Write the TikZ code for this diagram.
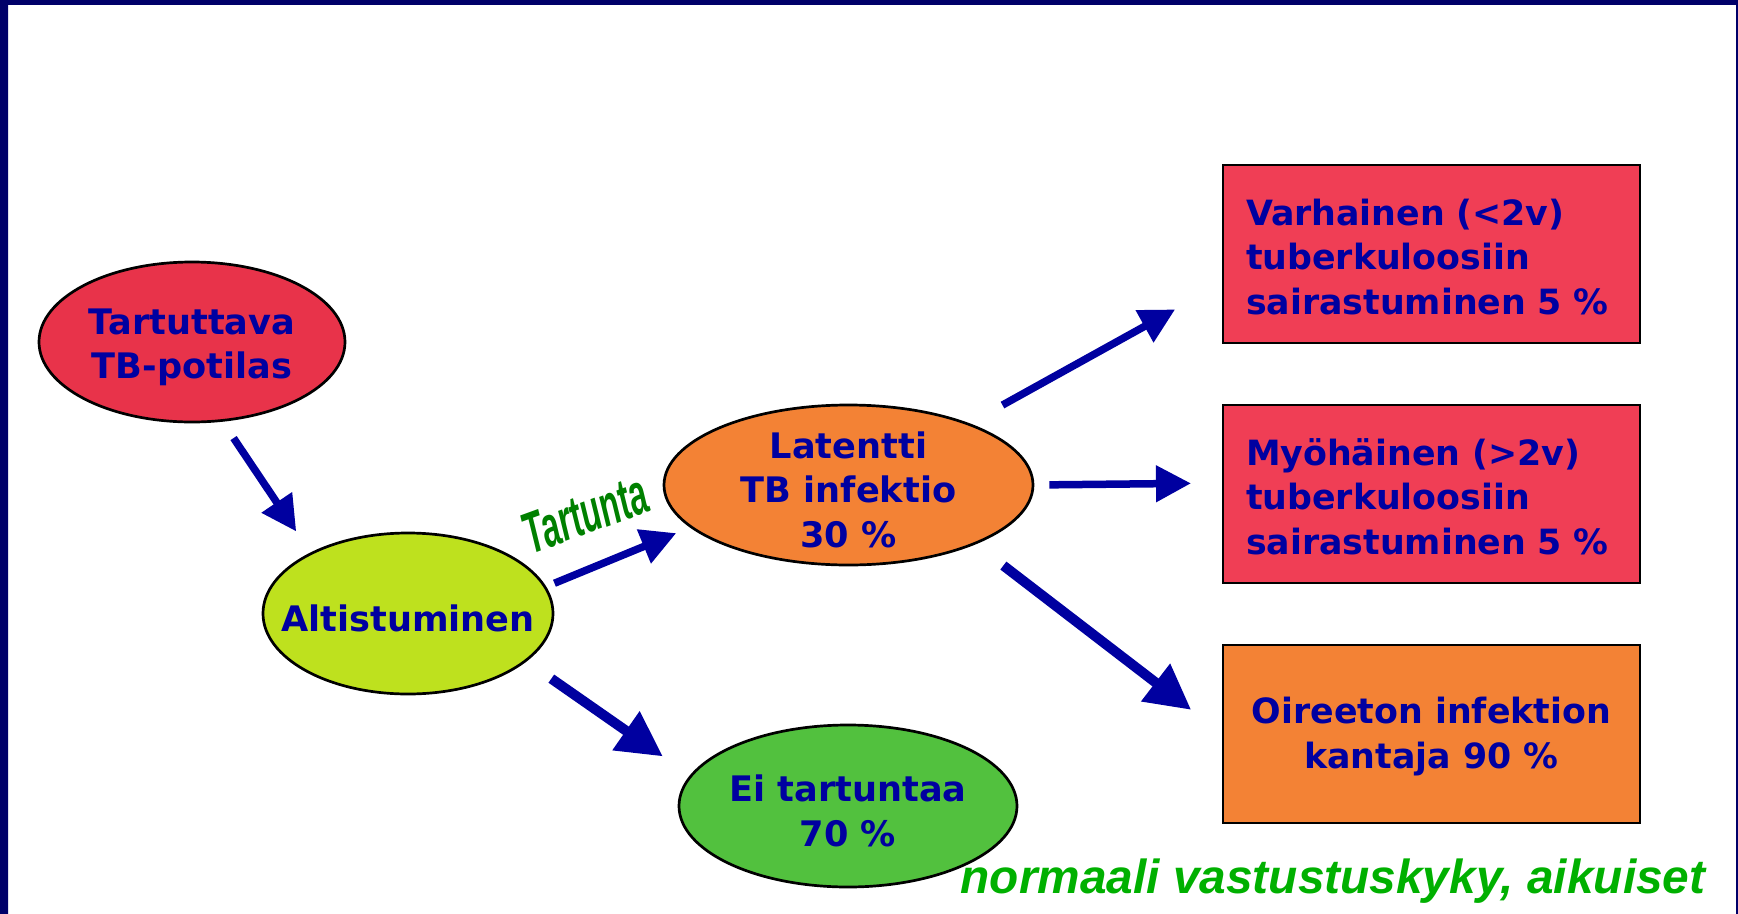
\documentclass[tikz,border=0pt]{standalone}
\usepackage{fontspec}
\setmainfont{DejaVu Sans}
\newfontfamily\arialfont{Liberation Sans}
\usetikzlibrary{arrows.meta,shapes.geometric}
\definecolor{cnavy}{RGB}{0,0,160}
\definecolor{ckehys}{RGB}{0,0,105}
\definecolor{ckehys2}{RGB}{0,0,140}
\definecolor{cpuna}{RGB}{232,51,74}
\definecolor{cpinkki}{RGB}{240,62,85}
\definecolor{coranssi}{RGB}{243,130,53}
\definecolor{ckelta}{RGB}{190,225,30}
\definecolor{cvihrea}{RGB}{82,193,62}
\definecolor{ctumma}{RGB}{0,128,0}
\definecolor{ckirkas}{RGB}{0,176,0}
\newcommand{\nosto}{\rule{0pt}{3.6mm}}

\begin{document}
\begin{tikzpicture}[x=0.1mm, y=-0.1mm,
  oval/.style={ellipse, draw=black, line width=0.27mm, inner sep=-4mm, text=cnavy,
    align=center, font=\bfseries\fontsize{10}{12.7}\selectfont},
  laatikko/.style={rectangle, draw=black, line width=0.2mm, inner sep=0pt,
    inner xsep=2.3mm, minimum width=41.7mm, minimum height=17.8mm, text=cnavy,
    font=\bfseries\fontsize{9.9}{12.7}\selectfont},
  nuoli/.style={-{Triangle[length=3.5mm,width=3.5mm]}, cnavy, line width=0.75mm},
  paksu/.style={-{Triangle[length=4.5mm,width=4.5mm]}, cnavy, line width=1mm}]
\useasboundingbox (0,0) rectangle (1738,914);
% kehys
\shade[top color=ckehys, middle color=ckehys2, bottom color=ckehys] (0,0) rectangle (8,914);
\fill[ckehys] (0,0) rectangle (1738,5);
\fill[ckehys] (1735.5,0) rectangle (1738,914);

\node[oval, fill=cpuna, minimum width=30.6mm, minimum height=16mm] (tb) at (192,342) {\nosto Tartuttava\\TB-potilas};
\node[oval, fill=ckelta, minimum width=29mm, minimum height=16.1mm] (alt) at (408,613.5) {\nosto Altistuminen};
\node[oval, fill=coranssi, minimum width=36.9mm, minimum height=16mm] (lat) at (848.5,485) {\nosto Latentti\\TB infektio\\30 \%};
\node[oval, fill=cvihrea, minimum width=33.8mm, minimum height=16.2mm] (ei) at (848,806) {\nosto Ei tartuntaa\\70 \%};

\node[laatikko, fill=cpinkki, text width=37.1mm, align=left] (varh) at (1431.5,254) {\rule{0pt}{3.2mm}Varhainen (<2v)\\tuberkuloosiin\\sairastuminen 5 \%};
\node[laatikko, fill=cpinkki, text width=37.1mm, align=left] (myoh) at (1431.5,494) {\rule{0pt}{3.2mm}Myöhäinen (>2v)\\tuberkuloosiin\\sairastuminen 5 \%};
\node[laatikko, fill=coranssi, align=center] (oir) at (1431.5,733.5) {\rule{0pt}{3.2mm}Oireeton infektion\\kantaja 90 \%};

\draw[nuoli, shorten <=1.97mm, shorten >=2.54mm] (tb.-69.7) -- (alt.148.8);
\draw[nuoli, shorten <=0.89mm, shorten >=1.49mm] (alt.11.8) -- (lat.195.8);
\draw[paksu, shorten <=3.01mm, shorten >=3.3mm] (alt.-22) -- (ei.169.1);
\draw[nuoli, shorten <=3.76mm, shorten >=5.36mm] (lat.27) -- (varh.188.24);
\draw[nuoli, shorten <=1.5mm, shorten >=3.1mm] (lat.east) -- (myoh.177.8);
\draw[paksu, shorten <=3.49mm, shorten >=3.88mm] (lat.-25.3) -- (oir.180.3);

\node[rotate=20, xscale=0.56, text=ctumma, font=\arialfont\bfseries\itshape\fontsize{16.5}{16.5}\selectfont] (tartunta) at (585,514) {Tartunta};
\node[anchor=base west, inner sep=0pt, text=ckirkas, font=\arialfont\bfseries\itshape\fontsize{13.6}{14}\selectfont] (huom) at (960,893) {normaali vastustuskyky, aikuiset};
\end{tikzpicture}
\end{document}
